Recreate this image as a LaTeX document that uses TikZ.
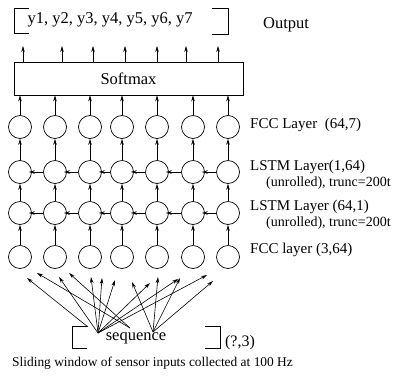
\documentclass[tikz,border=0pt]{standalone}
\usepackage{fontspec}
\setmainfont{Liberation Serif}
\usetikzlibrary{arrows.meta,positioning,calc}

\begin{document}
\begin{tikzpicture}[x=1pt,y=-1pt]
  % Definir estilos
  \tikzstyle{neuron}=[circle, draw, line width=0.7pt, minimum size=23pt, inner sep=0pt]
  \tikzstyle{conn}=[-{Stealth[length=6pt,width=3.5pt]}, line width=0.6pt]
  \tikzstyle{lbl}=[right, inner sep=0pt, font=\fontsize{15}{17}\selectfont]
  \tikzstyle{sublbl}=[right, inner sep=0pt, font=\fontsize{14}{16}\selectfont]
  \tikzstyle{bracket}=[line width=0.8pt]

  \useasboundingbox (0,0) rectangle (395,378);

  % Salida
  \node[font=\fontsize{16.5}{18}\selectfont] (yout) at (110,20) {y1, y2, y3, y4, y5, y6, y7};
  \node[font=\fontsize{16.5}{18}\selectfont] (outlbl) at (286,25) {Output};
  \draw[bracket] (29,8) -- (14,8) -- (14,33) -- (29,33);
  \draw[bracket] (212,8) -- (228,8) -- (228,34) -- (212,34);

  % Softmax
  \node[draw, line width=0.7pt, minimum width=229pt, minimum height=33pt, font=\fontsize{16.5}{18}\selectfont] (softmax) at (128.5,78.5) {Softmax};
  \foreach \x [count=\i] in {23,62,93,125,157,186,218}
    \coordinate (o\i) at (\x,46);
  \foreach \i in {1,...,7}
    \draw[conn] (o\i |- softmax.north) -- (o\i);

  % Capas de neuronas
  \foreach \x [count=\i] in {20,55,90,122,157,193,228} {
    \node[neuron] (fo\i) at (\x,127) {};
    \node[neuron] (la\i) at (\x,172) {};
    \node[neuron] (lb\i) at (\x,213) {};
    \node[neuron] (fi\i) at (\x,257) {};
  }

  % Conexiones verticales
  \foreach \i in {1,...,7} {
    \draw[conn] (fo\i) -- (fo\i |- softmax.south);
    \draw[conn] (la\i) -- (fo\i);
    \draw[conn] (lb\i) -- (la\i);
    \draw[conn] (fi\i) -- (lb\i);
  }

  % LSTM desenrollado
  \foreach \i [evaluate=\i as \j using int(\i+1)] in {1,...,6} {
    \draw[conn, shorten >=-3pt] (la\j) -- (la\i);
    \draw[conn, shorten >=-3pt] (lb\j) -- (lb\i);
  }

  % Salida del LSTM hacia la capa FCC
  \foreach \p [count=\i] in {(48,143),(80,139),(112,140),(150,139),(182,143),(215,144)} {
    \coordinate (fan\i) at \p;
    \draw[conn] (la1.60) -- (fan\i);
  }

  % Etiquetas de capas
  \node[lbl] (lfo) at (250,125) {FCC Layer\ \ (64,7)};
  \node[lbl] (lla) at (250,167) {LSTM Layer(1,64)};
  \node[sublbl] (llau) at (266,183) {(unrolled), trunc=200t};
  \node[lbl] (llb) at (250,207) {LSTM Layer (64,1)};
  \node[sublbl] (llbu) at (266,223) {(unrolled), trunc=200t};
  \node[lbl] (lfi) at (250,250) {FCC layer (3,64)};

  % Entrada
  \node[font=\fontsize{16.5}{18}\selectfont] (seq) at (136,338) {sequence};
  \node[font=\fontsize{16}{18}\selectfont] (shape) at (240,343) {(?,3)};
  \draw[bracket] (87,326) -- (72,326) -- (72,348) -- (87,348);
  \draw[bracket] (205,326) -- (220,326) -- (220,348) -- (205,348);
  \coordinate (sa) at (88,327);
  \coordinate (sb) at (98,333);
  \coordinate (sc) at (130,328);
  \coordinate (sd) at (153,332);
  \foreach \p in {(27,278)} \draw[conn] (sa) -- \p;
  \foreach \p in {(59,277),(91,277),(102,278),(115,280),(150,283),(178,279),(207,275)} \draw[conn] (sb) -- \p;
  \foreach \p in {(37,273),(69,273)} \draw[conn] (sc) -- \p;
  \foreach \p in {(132,282),(158,277),(180,278),(213,281)} \draw[conn] (sd) -- \p;

  \node[right, inner sep=0pt, font=\fontsize{13.4}{15}\selectfont] (caption) at (12,363) {Sliding window of sensor inputs collected at 100 Hz};
\end{tikzpicture}
\end{document}
